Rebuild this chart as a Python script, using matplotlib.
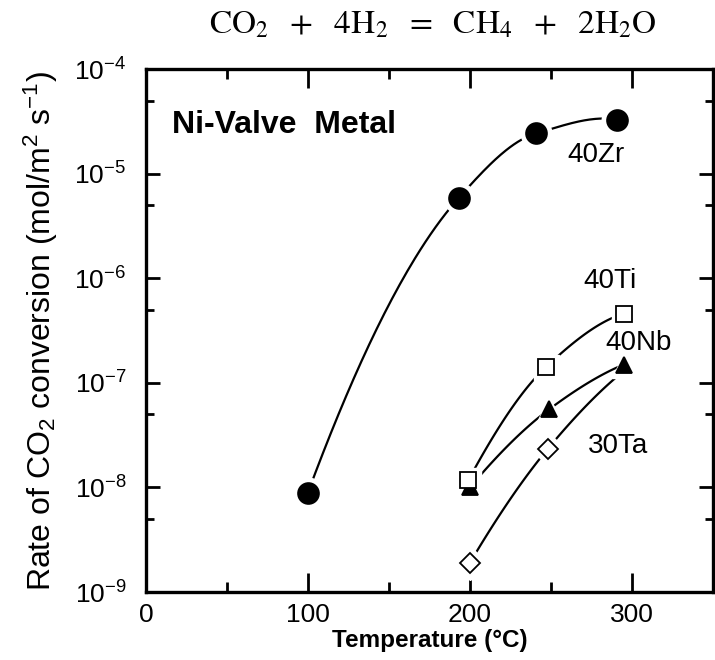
import matplotlib
matplotlib.use("Agg")
import matplotlib.pyplot as plt
import numpy as np
from matplotlib.ticker import FixedLocator, NullFormatter

plt.rcParams['font.family'] = ['Liberation Sans', 'DejaVu Sans']
plt.rcParams['mathtext.fontset'] = 'custom'
plt.rcParams['mathtext.rm'] = 'Liberation Sans'
plt.rcParams['mathtext.it'] = 'Liberation Sans:italic'
plt.rcParams['mathtext.bf'] = 'Liberation Sans:bold'

# data
zr_temp = [100, 193, 241, 291]
zr_rate = [8.9e-9, 5.85e-6, 2.44e-5, 3.3e-5]

ti_temp = [199, 247, 295]
ti_rate = [1.17e-8, 1.42e-7, 4.6e-7]

nb_temp = [200, 249, 295]
nb_rate = [1.0e-8, 5.6e-8, 1.5e-7]

ta_temp = [200, 248, 295]
ta_rate = [1.9e-9, 2.33e-8, 1.3e-7]

x_major = [0, 100, 200, 300]
x_minor = [50, 150, 250, 350]
y_major = [1e-9, 1e-8, 1e-7, 1e-6, 1e-5, 1e-4]
y_minor = [5e-9, 5e-8, 5e-7, 5e-6, 5e-5]
y_labels = [r'$10^{-9}$', r'$10^{-8}$', r'$10^{-7}$', r'$10^{-6}$', r'$10^{-5}$', r'$10^{-4}$']


def smooth(t, r):
    # monotone cubic (pchip) connecting curve, drawn in log space
    x = np.asarray(t, float)
    y = np.log10(r)
    h = np.diff(x)
    d = np.diff(y) / h
    n = len(x)
    m = np.zeros(n)
    for k in range(1, n - 1):
        if d[k - 1] * d[k] > 0:
            w1 = 2 * h[k] + h[k - 1]
            w2 = h[k] + 2 * h[k - 1]
            m[k] = (w1 + w2) / (w1 / d[k - 1] + w2 / d[k])
    m[0] = ((2 * h[0] + h[1]) * d[0] - h[0] * d[1]) / (h[0] + h[1])
    m[-1] = ((2 * h[-1] + h[-2]) * d[-1] - h[-1] * d[-2]) / (h[-1] + h[-2])
    xs, ys = [], []
    for k in range(n - 1):
        s = np.linspace(0, 1, 60)
        h00 = 2 * s**3 - 3 * s**2 + 1
        h10 = s**3 - 2 * s**2 + s
        h01 = -2 * s**3 + 3 * s**2
        h11 = s**3 - s**2
        xs.append(x[k] + s * h[k])
        ys.append(h00 * y[k] + h10 * h[k] * m[k] + h01 * y[k + 1] + h11 * h[k] * m[k + 1])
    return np.concatenate(xs), 10 ** np.concatenate(ys)


fig = plt.figure(figsize=(7.15, 6.6), dpi=100)
ax = fig.add_axes([0.204, 0.103, 0.793, 0.792])
ax.set_yscale('log')
ax.set_xlim(0, 350)
ax.set_ylim(1e-9, 1e-4)

series = [
    (zr_temp, zr_rate, 'o', 'black', 15, range(4)),
    (ta_temp, ta_rate, 'D', 'white', 10, [0, 1]),
    (nb_temp, nb_rate, '^', 'black', 11, range(3)),
    (ti_temp, ti_rate, 's', 'white', 11, range(3)),
]

for t, r, m, fc, ms, idx in series:
    tt, rr = smooth(t, r)
    ax.plot(tt, rr, color='black', lw=1.6, zorder=2)
    tm = [t[i] for i in idx]
    rm = [r[i] for i in idx]
    ax.plot(tm, rm, ls='none', marker=m, ms=ms + 7, mfc='white', mec='white', zorder=3)
    ax.plot(tm, rm, ls='none', marker=m, ms=ms, mfc=fc, mec='black', mew=1.3, zorder=4)

ax.text(0.046, 0.893, 'Ni-Valve  Metal', transform=ax.transAxes, fontsize=23,
        fontweight='bold', va='center', ha='left')
ax.text(0.744, 0.836, '40Zr', transform=ax.transAxes, fontsize=20, va='center')
ax.text(0.771, 0.595, '40Ti', transform=ax.transAxes, fontsize=20, va='center')
ax.text(0.810, 0.476, '40Nb', transform=ax.transAxes, fontsize=20, va='center')
ax.text(0.780, 0.279, '30Ta', transform=ax.transAxes, fontsize=20, va='center')

ax.xaxis.set_major_locator(FixedLocator(x_major))
ax.xaxis.set_minor_locator(FixedLocator(x_minor))
ax.set_xticklabels([str(v) for v in x_major])
ax.yaxis.set_major_locator(FixedLocator(y_major))
ax.yaxis.set_minor_locator(FixedLocator(y_minor))
ax.yaxis.set_minor_formatter(NullFormatter())
ax.set_yticklabels(y_labels)

ax.tick_params(axis='both', which='both', direction='in', top=True, right=True,
               width=2, labelsize=19)
ax.tick_params(axis='x', which='major', length=14, pad=8)
ax.tick_params(axis='x', which='minor', length=7)
ax.tick_params(axis='y', which='major', length=10, pad=14)
ax.tick_params(axis='y', which='minor', length=6)
for s in ax.spines.values():
    s.set_linewidth(2.4)

ax.set_xlabel('Temperature (°C)', fontsize=17.5, fontweight='bold', labelpad=1)
ax.set_ylabel(r'Rate of CO$_2$ conversion (mol/m$^2$ s$^{-1}$)', fontsize=23, labelpad=10)

fig.text(0.606, 0.962, r'$\mathrm{CO_2\ \ +\ \ 4H_2\ \ =\ \ CH_4\ \ +\ \ 2H_2O}$',
         math_fontfamily='stix', fontsize=24, ha='center', va='center')

plt.savefig('out.png', dpi=100)
plt.close()
